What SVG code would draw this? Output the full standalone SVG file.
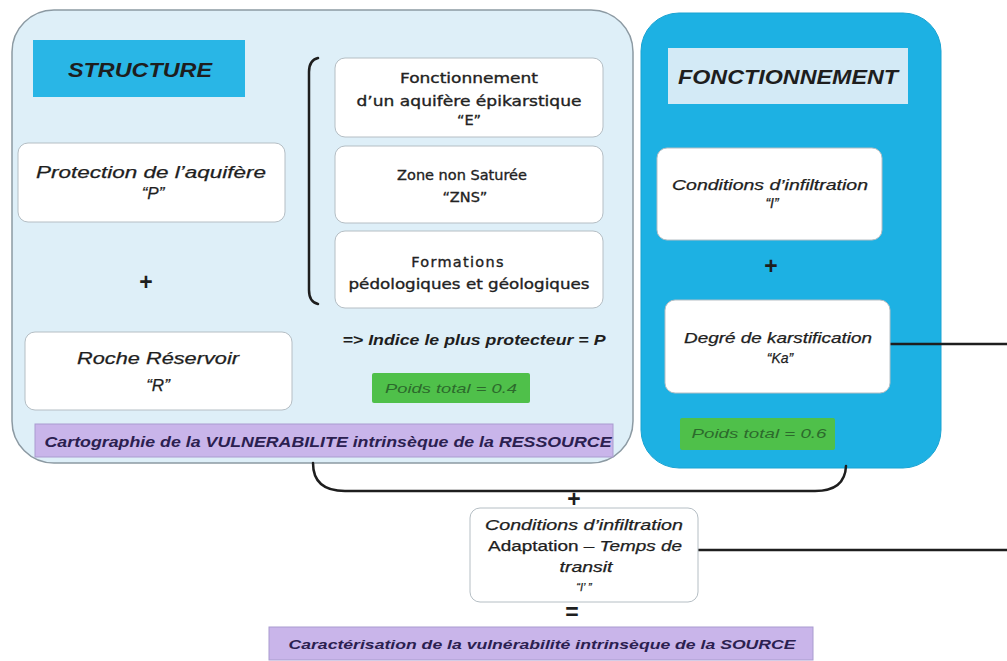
<svg xmlns="http://www.w3.org/2000/svg" width="1007" height="661" viewBox="0 0 1007 661">
<defs>
<style>
.bg{fill:#ffffff}
.panelL{fill:#deeff8;stroke:#8c9aa3;stroke-width:1.5}
.panelR{fill:#1db1e3;stroke:#1aa3d2;stroke-width:1}
.white{fill:#ffffff;stroke:#b5bec4;stroke-width:1}
.green{fill:#4fc04a}
.purple{fill:#c9b5ea;stroke:#a99ccf;stroke-width:1}
.t{font-family:"Liberation Sans",Arial,sans-serif;fill:#1e1e1e;text-anchor:middle}
.it{font-style:italic;stroke:#1e1e1e;stroke-width:0.25}
.bi{font-style:italic;font-weight:bold}
.up{font-family:"DejaVu Sans",Verdana,sans-serif;font-size:14.5px;fill:#222222;stroke:#222222;stroke-width:0.35;text-anchor:middle}
.gt{font-family:"Liberation Sans",Arial,sans-serif;font-style:italic;font-size:13px;fill:#2c6a2c;text-anchor:middle}
.pt{font-family:"Liberation Sans",Arial,sans-serif;font-style:italic;font-weight:bold;fill:#2b2050;text-anchor:middle}
.op{font-family:"Liberation Sans",Arial,sans-serif;font-weight:bold;font-size:23px;fill:#1e1e1e;text-anchor:middle}
.conn{fill:none;stroke:#1e1e1e;stroke-width:2.5;stroke-linecap:round}
</style>
</defs>
<rect class="bg" x="0" y="0" width="1007" height="661"/>

<g id="panel-structure">
<rect class="panelL" x="12" y="10" width="621" height="453" rx="42"/>
</g>
<g id="panel-fonctionnement">
<rect class="panelR" x="641" y="13" width="300" height="455" rx="38"/>
</g>

<g id="connectors">
<path class="conn" d="M318 58 Q309 60 309 72 L309 290 Q309 302 318 304"/>
<path class="conn" d="M313 463 Q313 491 345 491 L815 491 Q845 491 846 466"/>
<path class="conn" d="M890 344 L1007 344"/>
<path class="conn" d="M698 550 L1007 550"/>
</g>

<g id="structure-title">
<rect x="33" y="40" width="212" height="57" fill="#29b6e6"/>
<text class="t bi" x="140" y="77" font-size="20" textLength="144" lengthAdjust="spacingAndGlyphs">STRUCTURE</text>
</g>

<g id="node-P">
<rect class="white" x="18" y="143" width="267" height="79" rx="10"/>
<text class="t it" x="151" y="178" font-size="17" textLength="230" lengthAdjust="spacingAndGlyphs">Protection de l’aquifère</text>
<text class="t it" x="153" y="199" font-size="17">“P”</text>
</g>

<text class="op" x="146" y="290">+</text>

<g id="node-R">
<rect class="white" x="25" y="332" width="267" height="78" rx="10"/>
<text class="t it" x="158" y="364" font-size="17" textLength="162" lengthAdjust="spacingAndGlyphs">Roche Réservoir</text>
<text class="t it" x="158" y="391" font-size="17">“R”</text>
</g>

<g id="node-E">
<rect class="white" x="335" y="58" width="268" height="79" rx="10"/>
<text class="up" x="469" y="83" textLength="138" lengthAdjust="spacingAndGlyphs">Fonctionnement</text>
<text class="up" x="469" y="106" textLength="225" lengthAdjust="spacingAndGlyphs">d’un aquifère épikarstique</text>
<text class="up" x="469" y="125">“E”</text>
</g>

<g id="node-ZNS">
<rect class="white" x="335" y="146" width="268" height="77" rx="10"/>
<text class="up" x="462" y="180">Zone non Saturée</text>
<text class="up" x="465" y="202">“ZNS”</text>
</g>

<g id="node-formations">
<rect class="white" x="335" y="231" width="268" height="77" rx="10"/>
<text class="up" x="458" y="267" letter-spacing="1.3">Formations</text>
<text class="up" x="469" y="289" textLength="241" lengthAdjust="spacingAndGlyphs">pédologiques et géologiques</text>
</g>

<g id="indice">
<text class="t bi" x="474" y="345" font-size="14.5" textLength="263" lengthAdjust="spacingAndGlyphs">=&gt; Indice le plus protecteur = P</text>
</g>

<g id="poids-04">
<rect class="green" x="372" y="373" width="158" height="30" rx="2"/>
<text class="gt" x="451" y="393" textLength="132" lengthAdjust="spacingAndGlyphs">Poids total = 0.4</text>
</g>

<g id="cartographie">
<rect class="purple" x="35" y="424" width="578" height="33"/>
<text class="pt" x="328" y="447" font-size="14.5" textLength="567" lengthAdjust="spacingAndGlyphs">Cartographie de la VULNERABILITE intrinsèque de la RESSOURCE</text>
</g>

<g id="fonctionnement-title">
<rect x="668" y="48" width="240" height="56" fill="#d3eaf6"/>
<text class="t bi" x="788" y="84" font-size="20" textLength="220" lengthAdjust="spacingAndGlyphs">FONCTIONNEMENT</text>
</g>

<g id="node-I">
<rect class="white" x="657" y="148" width="225" height="92" rx="10"/>
<text class="t it" x="770" y="190" font-size="14" textLength="196" lengthAdjust="spacingAndGlyphs">Conditions d’infiltration</text>
<text class="t it" x="772" y="208" font-size="14">“I”</text>
</g>

<text class="op" x="771" y="274">+</text>

<g id="node-Ka">
<rect class="white" x="665" y="300" width="225" height="93" rx="10"/>
<text class="t it" x="778" y="343" font-size="14" textLength="188" lengthAdjust="spacingAndGlyphs">Degré de karstification</text>
<text class="t it" x="780" y="363" font-size="14">“Ka”</text>
</g>

<g id="poids-06">
<rect class="green" x="680" y="418" width="155" height="32" rx="2"/>
<text class="gt" x="759" y="438" textLength="135" lengthAdjust="spacingAndGlyphs">Poids total = 0.6</text>
</g>

<text class="op" x="574" y="507" font-size="19">+</text>

<g id="node-Iprime">
<rect class="white" x="470" y="508" width="228" height="94" rx="10"/>
<text class="t it" x="584" y="530" font-size="14" textLength="198" lengthAdjust="spacingAndGlyphs">Conditions d’infiltration</text>
<text class="t it" x="585" y="551" font-size="14" textLength="194" lengthAdjust="spacingAndGlyphs"><tspan font-style="normal">Adaptation – </tspan>Temps de</text>
<text class="t it" x="586" y="572" font-size="14" textLength="53" lengthAdjust="spacingAndGlyphs">transit</text>
<text class="t it" x="584" y="591" font-size="11">“I’ ”</text>
</g>

<text class="op" x="572" y="620" font-size="20">=</text>

<g id="caracterisation">
<rect class="purple" x="269" y="627" width="544" height="33"/>
<text class="pt" x="542" y="649" font-size="13.5" textLength="507" lengthAdjust="spacingAndGlyphs">Caractérisation de la vulnérabilité intrinsèque de la SOURCE</text>
</g>
</svg>
